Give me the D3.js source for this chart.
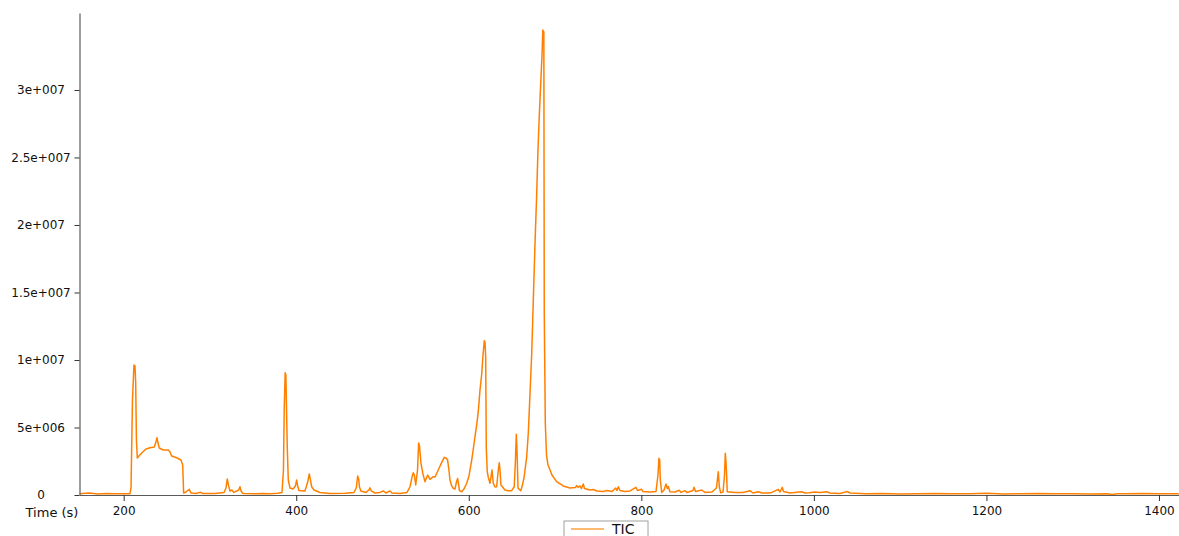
<!DOCTYPE html>
<html>
<head>
<meta charset="utf-8">
<script src="https://cdn.jsdelivr.net/npm/d3@7"></script>
<style>
  html, body { margin: 0; padding: 0; background: #fff; }
  svg { display: block; font-family: "DejaVu Sans", Verdana, sans-serif; }
</style>
</head>
<body>
<svg id="chart" width="1179" height="536"></svg>
<script>
// Total ion chromatogram: retention time (s) and summed intensity
const times = [
  149, 160, 170, 180, 190, 200, 205, 207.3, 208.5, 210.2, 211.9, 213.1, 213.9, 214.8, 215.8,
  217.7, 220.9, 225.8, 230.5, 235.5, 237.4, 238.6, 239.8, 241.3, 245.9, 251.7, 253.7, 255.6,
  261.4, 266.4, 268.4, 269.5, 272.2, 276.0, 278.0, 283.8, 289.2, 291.9, 305.8, 316.3, 318.6,
  320.1, 321.2, 323.2, 325.5, 327.8, 333.3, 334.8, 336.3, 338.3, 352.2, 360.3, 369.6, 378.8,
  383.5, 385.2, 386.1, 387.2, 388.0, 389.6, 390.8, 392.8, 396.2, 399.1, 400.5, 401.7, 403.2,
  410.1, 413.3, 415.1, 416.5, 417.9, 420.6, 427.5, 439.1, 456.5, 466.9, 469.6, 471.2, 472.4,
  473.3, 475.0, 480.8, 484.3, 485.4, 487.0, 491.3, 497.1, 500.9, 504.0, 508.7, 511.0, 520.3,
  528.4, 531.9, 534.5, 535.7, 536.9, 538.5, 540.6, 541.9, 542.9, 544.6, 546.9, 549.2, 552.4,
  555.0, 558.9, 560.9, 564.6, 567.8, 571.6, 573.6, 575.5, 577.0, 578.2, 580.2, 582.0, 584.0,
  585.7, 587.1, 588.3, 589.2, 591.8, 594.4, 597.6, 600.2, 603.4, 605.4, 607.2, 609.2, 611.0,
  613.0, 615.0, 616.5, 618.0, 618.8, 619.6, 620.3, 621.4, 622.8, 624.6, 625.7, 626.9, 628.4,
  630.4, 632.3, 634.2, 635.3, 636.2, 637.3, 642.0, 645.4, 649.7, 652.7, 654.1, 655.1, 655.9,
  657.1, 660.2, 661.3, 664.0, 667.1, 669.0, 670.9, 672.9, 674.8, 676.7, 678.5, 680.2, 682.0,
  683.7, 684.9, 685.8, 687.0, 687.5, 688.7, 690.1, 691.8, 694.2, 696.4, 701.9, 709.5, 717.3,
  723.7, 725.1, 726.6, 728.9, 730.6, 732.7, 734.1, 740.5, 744.3, 748.6, 755.6, 760.2, 766.0,
  770.3, 771.8, 773.3, 775.3, 781.1, 786.9, 793.8, 795.6, 800.4, 801.9, 810.0, 817.0, 819.3,
  820.4, 821.3, 822.0, 823.6, 826.3, 828.6, 830.1, 831.2, 833.2, 839.0, 844.0, 846.0, 850.6,
  853.0, 859.9, 861.1, 862.8, 870.0, 873.8, 881.9, 887.1, 889.2, 890.4, 892.0, 894.7, 896.4,
  897.3, 898.1, 898.9, 899.6, 908.5, 917.8, 925.9, 929.4, 935.6, 939.8, 946.8, 951.4, 958.7,
  960.7, 963.4, 964.7, 972.3, 985.9, 989.7, 994.7, 1001.3, 1007.1, 1014.9, 1018.7, 1030.3,
  1038.7, 1041.9, 1060, 1080, 1100, 1120, 1140, 1160, 1180, 1200, 1220, 1240, 1260, 1280,
  1300, 1320, 1340, 1346, 1352, 1360, 1380, 1400, 1423
];
const tic = [
  0.10e6, 0.15e6, 0.08e6, 0.12e6, 0.10e6, 0.09e6, 0.10e6, 0.10e6, 0.52e6, 7.04e6, 9.63e6, 9.56e6, 8.37e6, 4.07e6, 2.74e6,
  2.89e6, 3.11e6, 3.41e6, 3.50e6, 3.56e6, 3.93e6, 4.24e6, 3.85e6, 3.48e6, 3.33e6, 3.33e6, 3.19e6, 2.89e6,
  2.76e6, 2.59e6, 2.22e6, 0.15e6, 0.22e6, 0.42e6, 0.15e6, 0.11e6, 0.20e6, 0.11e6, 0.11e6, 0.19e6, 0.52e6,
  1.19e6, 0.81e6, 0.30e6, 0.37e6, 0.19e6, 0.37e6, 0.61e6, 0.26e6, 0.11e6, 0.09e6, 0.12e6, 0.10e6, 0.13e6,
  0.18e6, 1.85e6, 6.44e6, 9.06e6, 8.89e6, 3.58e6, 1.11e6, 0.52e6, 0.44e6, 0.67e6, 1.11e6, 0.67e6, 0.33e6,
  0.30e6, 0.96e6, 1.56e6, 1.11e6, 0.61e6, 0.37e6, 0.19e6, 0.11e6, 0.13e6, 0.19e6, 0.52e6, 1.41e6, 1.19e6,
  0.59e6, 0.30e6, 0.19e6, 0.37e6, 0.54e6, 0.30e6, 0.15e6, 0.19e6, 0.30e6, 0.15e6, 0.30e6, 0.15e6, 0.11e6,
  0.19e6, 0.61e6, 1.41e6, 1.65e6, 1.48e6, 0.74e6, 1.85e6, 3.85e6, 3.63e6, 2.35e6, 1.56e6, 0.99e6, 1.48e6,
  1.16e6, 1.36e6, 1.33e6, 1.85e6, 2.30e6, 2.79e6, 2.74e6, 2.59e6, 1.85e6, 1.11e6, 0.67e6, 0.50e6, 0.44e6,
  0.96e6, 1.22e6, 0.74e6, 0.32e6, 0.24e6, 0.44e6, 0.87e6, 1.41e6, 2.59e6, 3.48e6, 4.32e6, 5.19e6, 6.17e6,
  7.78e6, 8.96e6, 10.37e6, 11.43e6, 11.33e6, 10.22e6, 3.48e6, 1.73e6, 1.26e6, 0.87e6, 1.33e6, 1.85e6, 0.87e6,
  0.59e6, 0.61e6, 1.85e6, 2.39e6, 1.85e6, 0.74e6, 0.37e6, 0.32e6, 0.32e6, 0.61e6, 2.59e6, 4.50e6, 3.33e6,
  0.50e6, 0.32e6, 0.52e6, 1.26e6, 2.81e6, 4.59e6, 7.40e6, 10.40e6, 14.40e6, 18.50e6, 21.85e6, 25.56e6, 28.52e6,
  30.90e6, 32.59e6, 34.44e6, 34.30e6, 13.48e6, 5.33e6, 2.96e6, 2.22e6, 1.85e6, 1.48e6, 0.99e6, 0.67e6, 0.52e6,
  0.56e6, 0.70e6, 0.56e6, 0.67e6, 0.48e6, 0.81e6, 0.48e6, 0.37e6, 0.41e6, 0.30e6, 0.26e6, 0.33e6, 0.26e6,
  0.52e6, 0.33e6, 0.61e6, 0.33e6, 0.26e6, 0.30e6, 0.57e6, 0.33e6, 0.42e6, 0.26e6, 0.22e6, 0.26e6, 1.48e6,
  2.72e6, 2.59e6, 1.11e6, 0.19e6, 0.37e6, 0.81e6, 0.48e6, 0.63e6, 0.24e6, 0.22e6, 0.35e6, 0.19e6, 0.32e6,
  0.19e6, 0.33e6, 0.57e6, 0.26e6, 0.37e6, 0.19e6, 0.22e6, 0.52e6, 1.73e6, 0.61e6, 0.16e6, 0.22e6, 1.48e6,
  3.09e6, 2.47e6, 1.41e6, 0.24e6, 0.19e6, 0.19e6, 0.32e6, 0.15e6, 0.24e6, 0.15e6, 0.15e6, 0.19e6, 0.42e6,
  0.22e6, 0.57e6, 0.26e6, 0.15e6, 0.24e6, 0.15e6, 0.17e6, 0.22e6, 0.19e6, 0.24e6, 0.15e6, 0.11e6,
  0.26e6, 0.15e6, 0.10e6, 0.12e6, 0.08e6, 0.10e6, 0.12e6, 0.10e6, 0.09e6, 0.13e6, 0.08e6, 0.10e6, 0.12e6, 0.09e6,
  0.10e6, 0.08e6, 0.10e6, 0.03e6, 0.10e6, 0.10e6, 0.11e6, 0.09e6, 0.10e6
];
const xTickValues = [200, 400, 600, 800, 1000, 1200, 1400];
const yTickValues = [0, 5e6, 1e7, 1.5e7, 2e7, 2.5e7, 3e7];
const yTickLabels = ["0", "5e+006", "1e+007", "1.5e+007", "2e+007", "2.5e+007", "3e+007"];
const seriesName = "TIC";
const xTitle = "Time (s)";

const svg = d3.select("#chart");
const lineColor = "#ff8000";
const axisColor = "#5a5a5a";

const x = d3.scaleLinear().domain([148.8, 1423.2]).range([79.5, 1179]);
const y = d3.scaleLinear().domain([0, 35.7e6]).range([495, 13]);

const points = times.map((t, i) => ({ t, v: tic[i] }));

// chromatogram trace
svg.append("path")
  .datum(points)
  .attr("fill", "none")
  .attr("stroke", lineColor)
  .attr("stroke-width", 1.5)
  .attr("stroke-linejoin", "round")
  .attr("d", d3.line().x(d => x(d.t)).y(d => y(d.v)));

// x axis
const xAxis = svg.append("g")
  .attr("transform", `translate(0,${y(0)})`)
  .call(d3.axisBottom(x).tickValues(xTickValues).tickFormat(d3.format("d"))
    .tickSizeInner(6).tickSizeOuter(0).tickPadding(5));
xAxis.select(".domain").attr("stroke", axisColor).attr("stroke-width", 1.2);
xAxis.selectAll(".tick line").attr("stroke", "#333");
xAxis.selectAll(".tick text").attr("fill", "#111").style("font-size", "12px")
  .style("font-family", "'DejaVu Sans', Verdana, sans-serif");

// y axis with centred labels
const yAxis = svg.append("g")
  .attr("transform", `translate(${x.range()[0]},0)`)
  .call(d3.axisLeft(y).tickValues(yTickValues)
    .tickFormat((d, i) => yTickLabels[i])
    .tickSizeInner(5).tickSizeOuter(0).tickPadding(9));
yAxis.select(".domain").attr("stroke", axisColor).attr("stroke-width", 1.2);
yAxis.selectAll(".tick line").attr("stroke", "#333");
yAxis.selectAll(".tick text")
  .attr("fill", "#111")
  .attr("text-anchor", "middle")
  .attr("x", 41 - x.range()[0])
  .style("font-size", "12px")
  .style("font-family", "'DejaVu Sans', Verdana, sans-serif");

// axis title, placed at the left end of the time axis
svg.append("text")
  .attr("x", 52)
  .attr("y", 517)
  .attr("text-anchor", "middle")
  .attr("fill", "#111")
  .style("font-size", "13px")
  .text(xTitle);

// legend
const legend = svg.append("g").attr("transform", "translate(564,521)");
legend.append("rect")
  .attr("width", 84).attr("height", 24)
  .attr("fill", "#fff").attr("stroke", "#a0a0a0");
legend.append("line")
  .attr("x1", 7).attr("x2", 40).attr("y1", 8).attr("y2", 8)
  .attr("stroke", lineColor).attr("stroke-opacity", 0.75).attr("stroke-width", 1.3);
legend.append("text")
  .attr("x", 48).attr("y", 13)
  .attr("fill", "#111")
  .style("font-size", "14px")
  .text(seriesName);
</script>
</body>
</html>
